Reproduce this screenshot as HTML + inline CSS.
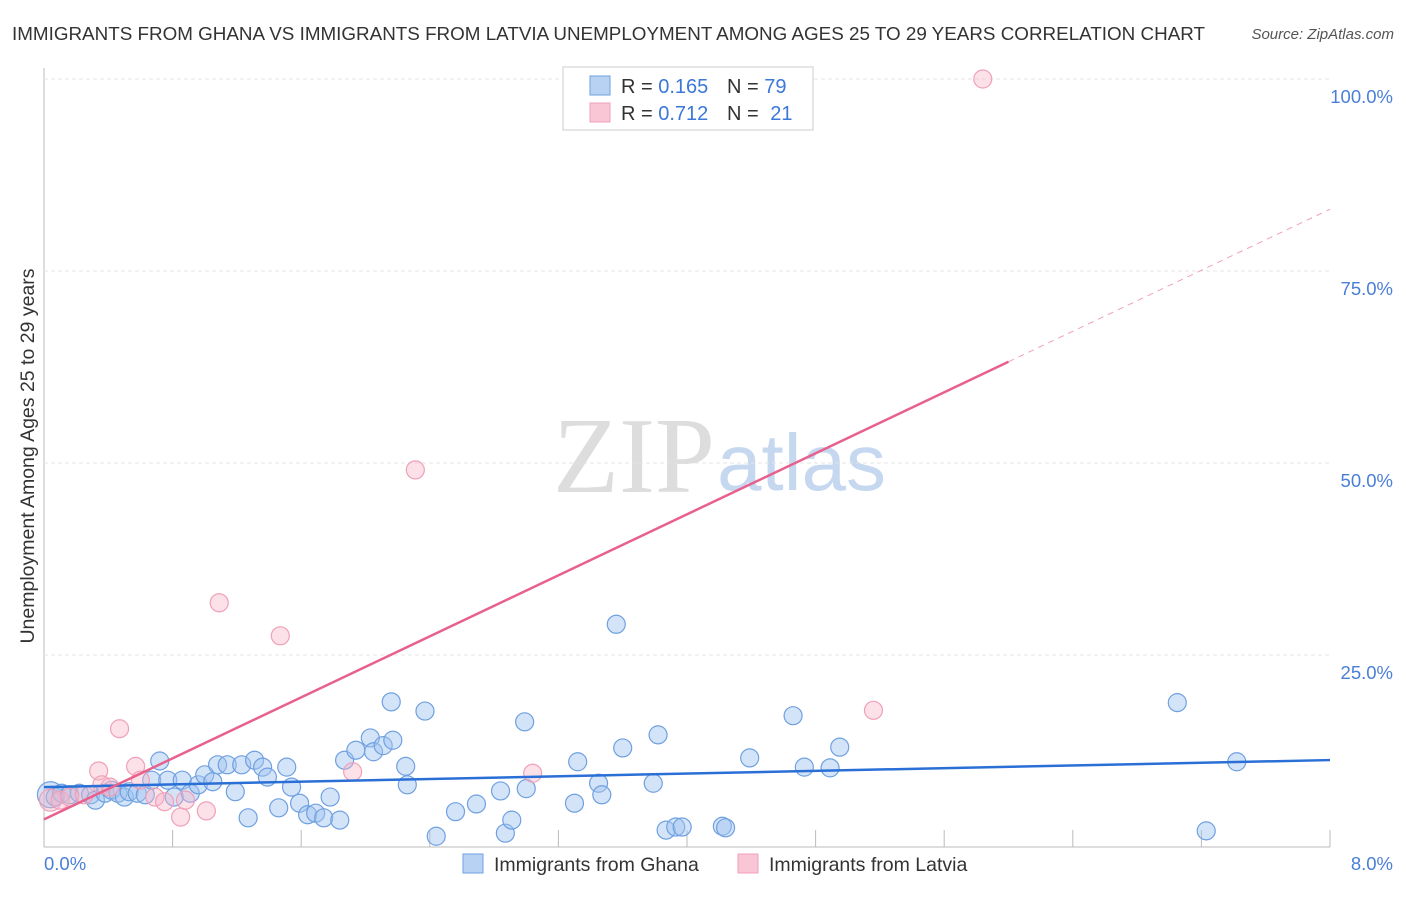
<!DOCTYPE html>
<html><head><meta charset="utf-8"><style>
body{margin:0;background:#fff;font-family:"Liberation Sans",sans-serif}
svg text{font-family:"Liberation Sans",sans-serif}
</style></head><body>
<svg id="c" width="1406" height="892">
<text x="12" y="40" font-size="18.8" fill="#333" textLength="1193" lengthAdjust="spacingAndGlyphs">IMMIGRANTS FROM GHANA VS IMMIGRANTS FROM LATVIA UNEMPLOYMENT AMONG AGES 25 TO 29 YEARS CORRELATION CHART</text>
<text x="1394" y="39" font-size="15" fill="#555" font-style="italic" text-anchor="end">Source: ZipAtlas.com</text>
<text transform="translate(34,456) rotate(-90)" font-size="19.5" fill="#333" text-anchor="middle">Unemployment Among Ages 25 to 29 years</text>
<g><text x="553" y="492" font-size="108" fill="#ddd" style="font-family:'Liberation Serif',serif">ZIP</text><text x="717" y="490" font-size="80" fill="#c5d8f0">atlas</text></g>
<g id="grid"></g><g id="pts"></g><g id="lines"></g>
<g>
<rect x="563" y="67" width="250" height="63" fill="#fff" stroke="#ccc"/>
<rect x="590" y="76" width="20" height="19" fill="#b8d2f4" stroke="#6fa0e0"/>
<rect x="590" y="103" width="20" height="19" fill="#f8c6d4" stroke="#f0a0b8"/>
<text x="621" y="93" font-size="20" fill="#333">R = <tspan fill="#3b78d8">0.165</tspan></text>
<text x="727" y="93" font-size="20" fill="#333">N = <tspan fill="#3b78d8">79</tspan></text>
<text x="621" y="120" font-size="20" fill="#333">R = <tspan fill="#3b78d8">0.712</tspan></text>
<text x="727" y="120" font-size="20" fill="#333">N = <tspan fill="#3b78d8" dx="6">21</tspan></text>
</g>
<g>
<rect x="463" y="854" width="20" height="19" fill="#b8d2f4" stroke="#6fa0e0"/>
<text x="494" y="871" font-size="19.5" fill="#333">Immigrants from Ghana</text>
<rect x="738" y="854" width="20" height="19" fill="#f8c6d4" stroke="#f0a0b8"/>
<text x="769" y="871" font-size="19.5" fill="#333">Immigrants from Latvia</text>
</g>
</svg>
<script>
const yTicks=[25,50,75,100];
const yTickLabels=["25.0%","50.0%","75.0%","100.0%"];
const xTickLabels=["0.0%","8.0%"];
const ghanaX=[0.04,0.07,0.11,0.16,0.22,0.29,0.32,0.38,0.42,0.46,0.50,0.53,0.58,0.63,0.67,0.72,0.77,0.81,0.86,0.91,0.96,1.00,1.05,1.08,1.14,1.19,1.23,1.27,1.31,1.36,1.39,1.46,1.51,1.54,1.59,1.64,1.69,1.74,1.78,1.84,1.87,1.94,2.03,2.05,2.11,2.16,2.17,2.25,2.26,2.37,2.44,2.56,2.69,2.84,2.87,2.91,2.99,3.00,3.30,3.32,3.45,3.47,3.56,3.60,3.82,3.79,3.87,3.93,3.97,4.22,4.24,4.39,4.66,4.73,4.89,4.95,7.05,7.23,7.42];
const ghanaY=[6.8,6.5,7.0,6.8,7.0,6.8,6.1,7.0,7.4,7.0,6.5,7.2,7.0,6.8,8.7,11.2,8.7,6.5,8.7,7.0,8.1,9.4,8.5,10.7,10.7,7.2,10.7,3.8,11.3,10.4,9.1,5.1,10.4,7.8,5.7,4.2,4.4,3.8,6.5,3.5,11.3,12.6,14.2,12.4,13.2,18.9,13.9,10.5,8.1,17.7,1.4,4.6,5.6,7.3,1.8,3.5,16.3,7.6,5.7,11.1,8.3,6.8,29.0,12.9,14.6,8.3,2.2,2.6,2.6,2.7,2.5,11.6,17.1,10.4,10.3,13.0,18.8,2.1,11.1];
const latviaX=[0.04,0.10,0.16,0.25,0.34,0.36,0.41,0.47,0.57,0.60,0.69,0.75,0.85,0.88,1.01,1.09,1.47,1.92,2.31,3.04,5.16,5.84];
const latviaY=[6.1,6.1,6.5,6.8,9.9,8.1,7.8,15.4,10.5,8.7,6.5,5.9,3.9,6.1,4.7,31.8,27.5,9.8,49.1,9.6,17.8,100];
const ghanaFit=[7.8,0.44];
const latviaFit=[3.6,9.93];
const ns="http://www.w3.org/2000/svg";
const X=v=>44+v*160.75, Y=v=>847-v*7.68;
function mk(t,a,p){const e=document.createElementNS(ns,t);for(const k in a)e.setAttribute(k,a[k]);p.appendChild(e);return e;}
const grid=document.getElementById('grid');
mk('line',{x1:44,y1:68,x2:44,y2:847,stroke:'#bbb'},grid);
mk('line',{x1:44,y1:847,x2:1330,y2:847,stroke:'#bbb'},grid);
mk('line',{x1:44,y1:79,x2:1330,y2:79,stroke:'#e4e4e4','stroke-dasharray':'4,3'},grid);
yTicks.forEach((t,i)=>{
 const l=mk('line',{x1:44,y1:Y(t),x2:1330,y2:Y(t),stroke:'#e4e4e4','stroke-dasharray':'4,3'},grid);
 
 
 const tx=mk('text',{x:1393,y:Y(t)+24,'font-size':18.5,fill:'#4a7fd8','text-anchor':'end'},grid);
 tx.textContent=yTickLabels[i];
 
 
});
for(let i=0;i<=10;i++){mk('line',{x1:X(i*0.8),y1:830,x2:X(i*0.8),y2:847,stroke:'#bbb'},grid);}
const xl0=mk('text',{x:44,y:870,'font-size':18.5,fill:'#4a7fd8'},grid);xl0.textContent=xTickLabels[0];


const xl1=mk('text',{x:1393,y:870,'font-size':18.5,fill:'#4a7fd8','text-anchor':'end'},grid);xl1.textContent=xTickLabels[1];


const pts=document.getElementById('pts');
ghanaX.forEach((x,i)=>{
 const c=mk('circle',{cx:X(x),cy:Y(ghanaY[i]),r:i==0?13:9,fill:'rgba(160,196,240,0.45)',stroke:'#6fa0e0','stroke-width':1.2},pts);
 
 
});
latviaX.forEach((x,i)=>{
 const c=mk('circle',{cx:X(x),cy:Y(latviaY[i]),r:i==0?11:9,fill:'rgba(248,180,200,0.4)',stroke:'#f0a0b8','stroke-width':1.2},pts);
 
 
});
const lines=document.getElementById('lines');
const gl=mk('line',{x1:X(0),y1:Y(ghanaFit[0]),x2:X(8),y2:Y(ghanaFit[0]+8*ghanaFit[1]),stroke:'#2a6fd6','stroke-width':2.5},lines);


const ls=mk('line',{x1:X(0),y1:Y(latviaFit[0]),x2:X(6.0),y2:Y(latviaFit[0]+6.0*latviaFit[1]),stroke:'#e8608c','stroke-width':2.5},lines);


const ld=mk('line',{x1:X(6.0),y1:Y(latviaFit[0]+6.0*latviaFit[1]),x2:X(8),y2:Y(latviaFit[0]+8*latviaFit[1]),stroke:'#f0a0b8','stroke-width':1,'stroke-dasharray':'6,5'},lines);


</script>
</body></html>
